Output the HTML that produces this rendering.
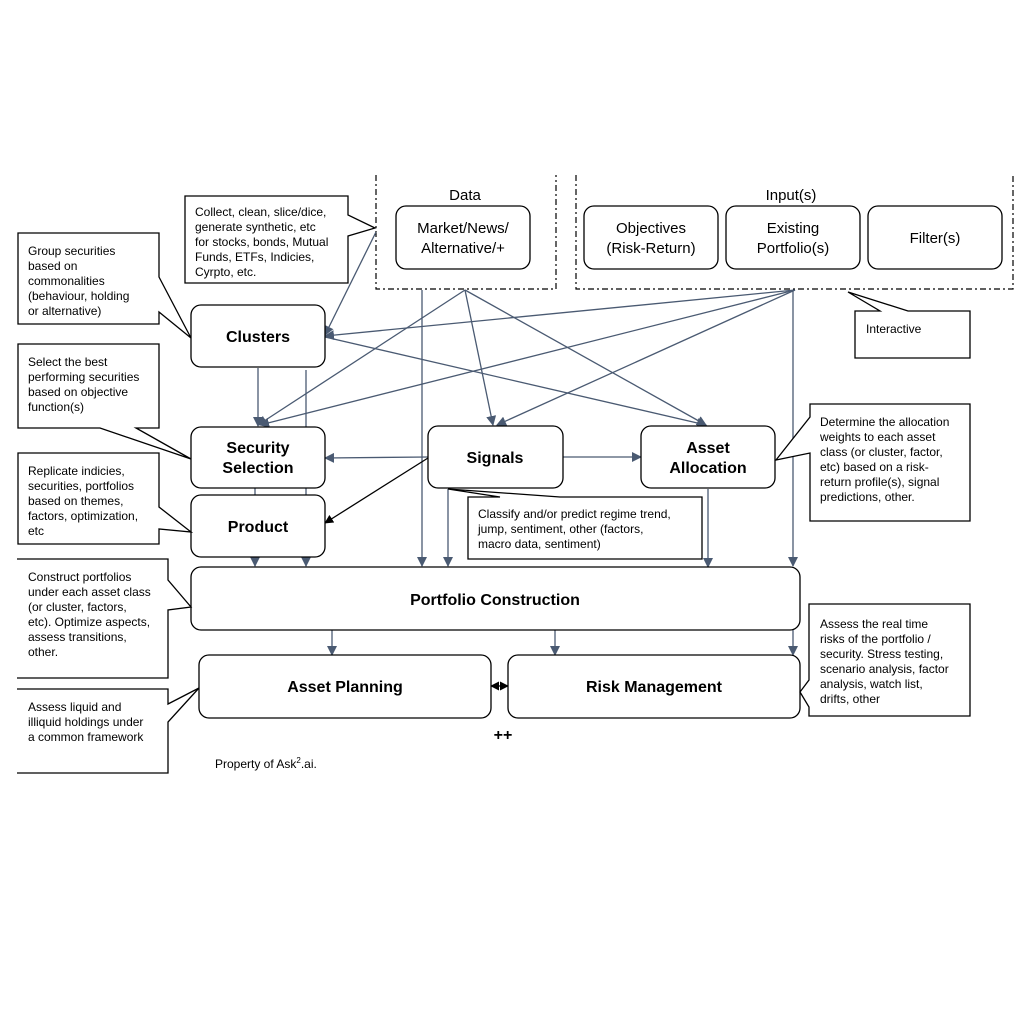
<!DOCTYPE html>
<html><head><meta charset="utf-8"><style>
html,body{margin:0;padding:0;background:#fff;}
svg{display:block;font-family:"Liberation Sans",Arial,sans-serif;}
.b{fill:#fff;stroke:#000;stroke-width:1.3;}
.c{fill:#fff;stroke:#000;stroke-width:1.3;}
.l{stroke:#4a5a72;stroke-width:1.3;fill:none;}
.t{font-size:12px;fill:#000;}
.h{font-size:16px;font-weight:bold;text-anchor:middle;}
.n{font-size:15px;text-anchor:middle;}
.d{fill:none;stroke:#000;stroke-width:1.2;stroke-dasharray:6,3,2,3;}
</style></head><body>
<svg width="1024" height="1024" viewBox="0 0 1024 1024">
<defs>
<marker id="a" viewBox="0 0 10 10" refX="9" refY="5" markerWidth="10" markerHeight="10" orient="auto-start-reverse" markerUnits="userSpaceOnUse"><path d="M0,0 L10,5 L0,10 z" fill="#4a5a72"/></marker>
<marker id="k" viewBox="0 0 10 10" refX="9" refY="5" markerWidth="9" markerHeight="9" orient="auto-start-reverse" markerUnits="userSpaceOnUse"><path d="M0,0 L10,5 L0,10 z" fill="#000"/></marker>
</defs>

<path class="d" d="M376,175 V289 H556 V175"/>
<path class="d" d="M576,175 V289 H1013 V175"/>
<text x="465" y="200" class="n">Data</text>
<text x="791" y="200" class="n">Input(s)</text>
<rect class="b" x="396" y="206" width="134" height="63" rx="10"/>
<text x="463" y="233" class="n">Market/News/</text><text x="463" y="253" class="n">Alternative/+</text>
<rect class="b" x="584" y="206" width="134" height="63" rx="10"/>
<text x="651" y="233" class="n">Objectives</text><text x="651" y="253" class="n">(Risk-Return)</text>
<rect class="b" x="726" y="206" width="134" height="63" rx="10"/>
<text x="793" y="233" class="n">Existing</text><text x="793" y="253" class="n">Portfolio(s)</text>
<rect class="b" x="868" y="206" width="134" height="63" rx="10"/>
<text x="935" y="243" class="n">Filter(s)</text>

<line class="l" x1="376" y1="232" x2="325" y2="335" marker-end="url(#a)"/>
<line class="l" x1="465" y1="290" x2="258" y2="425" marker-end="url(#a)"/>
<line class="l" x1="465" y1="290" x2="493" y2="425" marker-end="url(#a)"/>
<line class="l" x1="465" y1="290" x2="706" y2="425" marker-end="url(#a)"/>
<line class="l" x1="795" y1="290" x2="325" y2="336" marker-end="url(#a)"/>
<line class="l" x1="795" y1="290" x2="260" y2="425" marker-end="url(#a)"/>
<line class="l" x1="795" y1="290" x2="497" y2="425" marker-end="url(#a)"/>
<line class="l" x1="325" y1="337" x2="706" y2="425" marker-end="url(#a)"/>
<line class="l" x1="422" y1="290" x2="422" y2="566" marker-end="url(#a)"/>
<line class="l" x1="793" y1="290" x2="793" y2="566" marker-end="url(#a)"/>
<line class="l" x1="258" y1="368" x2="258" y2="426" marker-end="url(#a)"/>
<line class="l" x1="306" y1="370" x2="306" y2="566" marker-end="url(#a)"/>
<line class="l" x1="255" y1="488" x2="255" y2="566" marker-end="url(#a)"/>
<line class="l" x1="428" y1="457" x2="325" y2="458" marker-end="url(#a)"/>
<line stroke="#000" stroke-width="1.3" x1="428" y1="458" x2="325" y2="523" marker-end="url(#k)"/>
<line class="l" x1="563" y1="457" x2="641" y2="457" marker-end="url(#a)"/>
<line class="l" x1="448" y1="489" x2="448" y2="566" marker-end="url(#a)"/>
<line class="l" x1="708" y1="489" x2="708" y2="567" marker-end="url(#a)"/>
<line class="l" x1="332" y1="630" x2="332" y2="655" marker-end="url(#a)"/>
<line class="l" x1="555" y1="630" x2="555" y2="655" marker-end="url(#a)"/>
<line class="l" x1="793" y1="630" x2="793" y2="655" marker-end="url(#a)"/>
<line stroke="#000" stroke-width="1.3" x1="491" y1="686" x2="508" y2="686" marker-start="url(#k)" marker-end="url(#k)"/>

<rect class="b" x="191" y="305" width="134" height="62" rx="10"/>
<text x="258" y="342" class="h">Clusters</text>
<rect class="b" x="191" y="427" width="134" height="61" rx="10"/>
<text x="258" y="453" class="h">Security</text><text x="258" y="473" class="h">Selection</text>
<rect class="b" x="191" y="495" width="134" height="62" rx="10"/>
<text x="258" y="532" class="h">Product</text>
<rect class="b" x="428" y="426" width="135" height="62" rx="10"/>
<text x="495" y="463" class="h">Signals</text>
<rect class="b" x="641" y="426" width="134" height="62" rx="10"/>
<text x="708" y="453" class="h">Asset</text><text x="708" y="473" class="h">Allocation</text>
<rect class="b" x="191" y="567" width="609" height="63" rx="10"/>
<text x="495" y="605" class="h">Portfolio Construction</text>
<rect class="b" x="199" y="655" width="292" height="63" rx="10"/>
<text x="345" y="692" class="h">Asset Planning</text>
<rect class="b" x="508" y="655" width="292" height="63" rx="10"/>
<text x="654" y="692" class="h">Risk Management</text>
<text x="503" y="740" style="font-size:16px;font-weight:bold" text-anchor="middle">++</text>
<text x="215" y="768" style="font-size:12px">Property of Ask<tspan dy="-5" style="font-size:8px">2</tspan><tspan dy="5">.ai.</tspan></text>

<path class="c" d="M185,196 H348 V215 L375,228 L348,236 V283 H185 Z"/>
<g class="t"><text x="195" y="216">Collect, clean, slice/dice,</text><text x="195" y="231">generate synthetic, etc</text><text x="195" y="246">for stocks, bonds, Mutual</text><text x="195" y="261">Funds, ETFs, Indicies,</text><text x="195" y="276">Cyrpto, etc.</text></g>

<path class="c" d="M18,233 H159 V277 L191,338 L159,312 V324 H18 Z"/>
<g class="t"><text x="28" y="255">Group securities</text><text x="28" y="270">based on</text><text x="28" y="285">commonalities</text><text x="28" y="300">(behaviour, holding</text><text x="28" y="315">or alternative)</text></g>

<path class="c" d="M18,344 H159 V428 H136 L191,459 L100,428 H18 Z"/>
<g class="t"><text x="28" y="366">Select the best</text><text x="28" y="381">performing securities</text><text x="28" y="396">based on objective</text><text x="28" y="411">function(s)</text></g>

<path class="c" d="M18,453 H159 V507 L191,532 L159,529 V544 H18 Z"/>
<g class="t"><text x="28" y="475">Replicate indicies,</text><text x="28" y="490">securities, portfolios</text><text x="28" y="505">based on themes,</text><text x="28" y="520">factors, optimization,</text><text x="28" y="535">etc</text></g>

<path class="c" d="M17,559 H168 V580 L191,607 L168,610 V678 H17"/>
<g class="t"><text x="28" y="581">Construct portfolios</text><text x="28" y="596">under each asset class</text><text x="28" y="611">(or cluster, factors,</text><text x="28" y="626">etc). Optimize aspects,</text><text x="28" y="641">assess transitions,</text><text x="28" y="656">other.</text></g>

<path class="c" d="M17,689 H168 V704 L199,688 L168,722 V773 H17"/>
<g class="t"><text x="28" y="711">Assess liquid and</text><text x="28" y="726">illiquid holdings under</text><text x="28" y="741">a common framework</text></g>

<path class="c" d="M468,497 H500 L448,489 L560,497 H702 V559 H468 Z"/>
<g class="t"><text x="478" y="518">Classify and/or predict regime trend,</text><text x="478" y="533">jump, sentiment, other (factors,</text><text x="478" y="548">macro data, sentiment)</text></g>

<path class="c" d="M861,311 H880 L848,292 L908,311 H970 V358 H855 V311 Z"/>
<text x="866" y="333" class="t">Interactive</text>

<path class="c" d="M810,404 H970 V521 H810 V453 L776,460 L810,417 Z"/>
<g class="t"><text x="820" y="426">Determine the allocation</text><text x="820" y="441">weights to each asset</text><text x="820" y="456">class (or cluster, factor,</text><text x="820" y="471">etc) based on a risk-</text><text x="820" y="486">return profile(s), signal</text><text x="820" y="501">predictions, other.</text></g>

<path class="c" d="M809,604 H970 V716 H809 V707 L800,692 L809,680 Z"/>
<g class="t"><text x="820" y="628">Assess the real time</text><text x="820" y="643">risks of the portfolio /</text><text x="820" y="658">security.  Stress testing,</text><text x="820" y="673">scenario analysis, factor</text><text x="820" y="688">analysis, watch list,</text><text x="820" y="703">drifts, other</text></g>
</svg>
</body></html>
